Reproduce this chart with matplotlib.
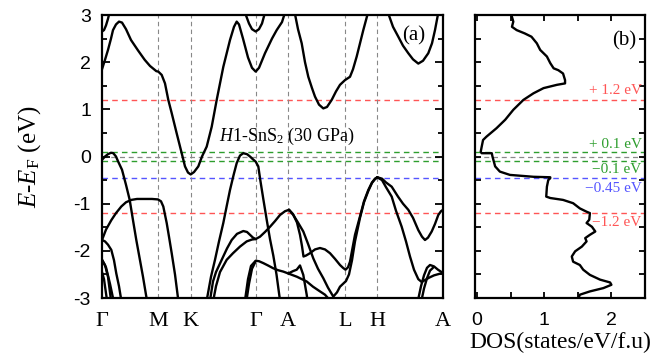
import matplotlib
matplotlib.use("Agg")
import matplotlib.pyplot as plt
from matplotlib.ticker import MultipleLocator
import numpy as np

plt.rcParams['font.family'] = 'Liberation Sans'
plt.rcParams['axes.unicode_minus'] = False
plt.rcParams['mathtext.fontset'] = 'custom'
plt.rcParams['mathtext.rm'] = 'Liberation Serif'
plt.rcParams['mathtext.it'] = 'Liberation Serif:italic'

SERIF = 'Liberation Serif'

# high-symmetry points along the k-path (path length, arb. units)
kpt_pos = [0.0, 56.3, 88.7, 153.7, 186.3, 243.0, 275.3, 341.0]
kpt_labels = ['Γ', 'M', 'K', 'Γ', 'A', 'L', 'H', 'A']

# band lines, (k, E - E_F) in eV
band_c1 = [(0, 2.65), (2, 2.68), (4, 2.78), (6, 2.92), (7.5, 3.05)]
band_c2 = [(0, 1.85), (3, 2.05), (6, 2.26), (9, 2.5), (11, 2.68), (14, 2.8), (17, 2.86), (20, 2.84),
           (24, 2.7), (29, 2.47), (36, 2.25), (42.7, 2.05), (48, 1.92), (54.3, 1.81), (56.3, 1.80),
           (59.7, 1.73), (63, 1.55), (66.3, 1.2), (69.7, 0.92), (74.7, 0.49), (79.7, 0.07),
           (83, -0.21), (86, -0.34), (88.7, -0.38), (92, -0.33), (96.3, -0.21), (100, 0.0),
           (104.7, 0.21), (109.7, 0.63), (114.7, 1.2), (121.3, 1.9), (128, 2.47), (132, 2.75),
           (134.7, 2.86), (137, 2.8), (141, 2.5), (146, 2.1), (150, 1.88), (153.7, 1.80),
           (157, 1.88), (163, 2.19), (170, 2.5), (174.7, 2.68), (180, 2.85), (183, 3.05)]
band_c3 = [(143, 3.05), (147, 2.82), (150, 2.7), (153.7, 2.65), (157, 2.7), (160, 2.82), (163, 3.05)]
band_c4 = [(192.7, 3.05), (196, 2.7), (199.7, 2.40), (203, 2.0), (206.3, 1.69), (210, 1.45),
           (213, 1.27), (217, 1.1), (221.3, 1.02), (225, 1.05), (229.7, 1.20), (234, 1.38),
           (238, 1.52), (243, 1.62), (248, 1.69), (251, 1.85), (254.7, 2.12), (258, 2.4),
           (261.3, 2.68), (266, 3.05)]
band_c5 = [(286, 3.05), (291, 2.75), (296.3, 2.54), (301, 2.35), (306.3, 2.19), (311, 2.06),
           (316.3, 1.97), (321, 2.03), (326.3, 2.19), (330, 2.4), (333, 2.68), (336.3, 3.05)]

band_v1 = [(0, -0.07), (3, 0.0), (6, 0.05), (9, 0.08), (11.3, 0.07), (14, 0.0), (16, -0.1),
           (20, -0.28), (24, -0.6), (27.7, -0.92), (31, -1.35), (34.3, -1.77), (38, -2.2),
           (41, -2.55), (44.3, -2.97), (45.3, -3.05)]
band_v2 = [(0, -1.77), (4, -1.55), (9.3, -1.35), (14, -1.2), (19.3, -1.06), (24, -0.97),
           (29.3, -0.92), (35, -0.90), (42.7, -0.90), (50, -0.90), (56, -0.91), (59, -0.95),
           (61.3, -1.06), (64.7, -1.41), (67, -1.7), (69.7, -2.05), (73, -2.5), (76.3, -3.05)]
band_v3 = [(0, -1.77), (3, -1.8), (6, -1.87), (9.3, -1.98), (12, -2.2), (14.3, -2.48),
           (17, -2.75), (19.3, -3.05)]
band_v4 = [(0, -2.19), (3, -2.3), (6, -2.55), (9, -3.05)]
band_v5 = [(0, -2.19), (4, -2.35), (8, -2.7), (11.5, -3.05)]
band_v6 = [(0, -2.45), (2, -2.6), (5, -3.05)]
band_v7 = [(104.7, -3.05), (109, -2.55), (113, -2.19), (117, -1.8), (121.3, -1.41), (125, -1.02),
           (128, -0.71), (131.5, -0.4), (134.7, -0.14), (138, 0.02), (141.3, 0.07), (145, 0.05),
           (148, 0.0), (151, -0.06), (153.7, -0.11), (156.3, -0.21), (158.3, -0.5), (161.3, -0.9),
           (164.7, -1.34), (168, -1.75), (171.3, -2.1), (174.5, -2.5), (178, -3.05)]
band_v8 = [(108, -3.05), (111, -2.65), (114, -2.45), (119.7, -2.19), (125, -1.95), (129.7, -1.77),
           (135, -1.64), (141.3, -1.58), (145, -1.6), (148, -1.66), (151, -1.72), (153.7, -1.75),
           (158, -1.7), (163, -1.6), (168, -1.49), (173, -1.37), (178, -1.24), (183, -1.16),
           (187, -1.13)]
band_v9 = [(111.3, -3.05), (114, -2.75), (118, -2.45), (124.7, -2.19), (131, -2.05), (138, -1.91),
           (144.7, -1.8), (150, -1.76), (153.7, -1.75)]
band_v10 = [(187, -1.13), (191, -1.22), (195, -1.4), (198, -1.66), (200, -1.9), (201.5, -2.12),
            (204, -2.1), (208, -2.05), (213, -1.97), (218, -1.94), (223, -1.97), (228, -2.05),
            (233, -2.17), (238, -2.3), (241, -2.36), (243.5, -2.40), (246, -2.35), (248, -2.23),
            (250, -2.0), (253, -1.66), (258, -1.27), (262, -0.95), (266.3, -0.71), (270, -0.55),
            (273, -0.47), (275.3, -0.44)]
band_v11 = [(187, -1.13), (191.3, -1.24), (196, -1.4), (201.3, -1.59), (206, -1.85), (211.3, -2.16),
            (216, -2.38), (221.3, -2.58), (226, -2.78), (231.3, -2.97), (235, -2.88), (238, -2.76),
            (241, -2.7), (244, -2.64), (247, -2.5), (250, -2.2), (253, -1.8), (258, -1.3),
            (262, -0.97), (266.3, -0.73), (270, -0.56), (273, -0.48), (275.3, -0.44)]
band_v12 = [(275.3, -0.44), (280, -0.47), (284, -0.55), (289.7, -0.64), (296, -0.85), (301, -1.0),
            (306.3, -1.13), (311, -1.3), (316.3, -1.56), (320, -1.7), (323, -1.77), (326, -1.72),
            (329.7, -1.59), (333, -1.43), (336.3, -1.24), (339, -1.16), (341, -1.13)]
band_v13 = [(275.3, -0.44), (280, -0.5), (284, -0.65), (289.7, -0.85), (294, -1.15), (299.7, -1.49),
            (304, -1.8), (308, -2.12), (312, -2.4), (316.3, -2.6), (319.7, -2.66), (323, -2.62),
            (327, -2.57), (332, -2.52), (337, -2.49), (341, -2.47)]
band_v14 = [(316, -3.05), (319, -2.75), (322, -2.52), (325, -2.36), (328, -2.3), (332, -2.33),
            (336, -2.4), (341, -2.47)]
band_v15 = [(319.5, -3.05), (322, -2.8), (325, -2.58), (328, -2.42), (331, -2.36)]
band_v16 = [(143, -3.05), (146, -2.6), (149, -2.32), (153.7, -2.21), (157, -2.22), (161.3, -2.26),
            (166, -2.31), (171.3, -2.37), (176, -2.41), (181.3, -2.44), (186.3, -2.48), (191, -2.43),
            (194.7, -2.40), (198, -2.31), (201.3, -2.51), (204.7, -2.93), (205.5, -3.05)]
band_v17 = [(144.5, -3.05), (147, -2.7), (150, -2.38), (153.7, -2.22)]
band_v18 = [(186.3, -2.48), (195, -2.55), (204.7, -2.65), (211, -2.76), (218, -2.86), (223, -2.93),
            (228, -3.05)]

bands = [band_c1, band_c2, band_c3, band_c4, band_c5,
         band_v1, band_v2, band_v3, band_v4, band_v5, band_v6, band_v7, band_v8, band_v9,
         band_v10, band_v11, band_v12, band_v13, band_v14, band_v15, band_v16, band_v17, band_v18]

# density of states, (E - E_F, DOS)
dos_E = [2.96, 2.86, 2.75, 2.68, 2.61, 2.54, 2.40, 2.26, 2.12, 1.98, 1.87, 1.83, 1.76, 1.62, 1.55,
         1.52, 1.45, 1.34, 1.20, 0.99, 0.78, 0.60, 0.42, 0.35, 0.21, 0.10, 0.07, 0.07, 0.0, -0.21,
         -0.32, -0.39, -0.43, -0.44, -0.46, -0.50, -0.64, -0.85, -0.88, -0.92, -0.99, -1.10, -1.17,
         -1.20, -1.34, -1.41, -1.49, -1.59, -1.66, -1.73, -1.80, -1.91, -2.01, -2.12, -2.23, -2.30,
         -2.40, -2.51, -2.61, -2.67, -2.72, -2.79, -2.86, -2.93, -3.0]
dos_val = [0.52, 0.54, 0.52, 0.59, 0.71, 0.81, 0.89, 0.94, 1.04, 1.09, 1.14, 1.21, 1.28, 1.31, 1.31,
           1.19, 0.99, 0.84, 0.69, 0.54, 0.42, 0.29, 0.14, 0.09, 0.07, 0.055, 0.07, 0.22, 0.23, 0.27,
           0.34, 0.49, 0.84, 1.09, 1.09, 1.06, 1.04, 1.03, 1.09, 1.28, 1.43, 1.53, 1.63,
           1.68, 1.67, 1.63, 1.71, 1.76, 1.68, 1.61, 1.63, 1.56, 1.46, 1.41, 1.43, 1.53,
           1.58, 1.68, 1.83, 1.98, 2.00, 1.88, 1.68, 1.53, 1.51]

# reference energy levels
level_E = [1.2, 0.1, -0.1, -0.45, -1.2]
level_colors = ['#ff5555', '#2e9e2e', '#2e9e2e', '#5555ff', '#ff5555']
level_labels = ['+ 1.2 eV', '+ 0.1 eV', '\u22120.1 eV', '\u22120.45 eV', '\u22121.2 eV']
level_label_y = [1.41, 0.25, -0.28, -0.67, -1.39]

fig = plt.figure(figsize=(6.53, 3.6), dpi=100)
ax1 = fig.add_axes([0.1562, 0.1722, 0.5222, 0.7861])
ax2 = fig.add_axes([0.7274, 0.1722, 0.2604, 0.7861])


def draw_levels(ax):
    ax.axhline(0, color='#888888', lw=0.9, ls=(0, (4, 3)), zorder=1)
    for e, c in zip(level_E, level_colors):
        ax.axhline(e, color=c, lw=1.0, ls=(0, (4, 3)), zorder=1)


# (a) band structure
draw_levels(ax1)
for k in kpt_pos[1:-1]:
    ax1.axvline(k, color='#888888', lw=0.8, ls=(0, (4, 3)), zorder=1)
for b in bands:
    b = np.array(b)
    ax1.plot(b[:, 0], b[:, 1], color='black', lw=1.7, zorder=3, solid_capstyle='round')

ax1.set_xlim(kpt_pos[0], kpt_pos[-1])
ax1.set_ylim(-3, 3)
ax1.set_xticks(kpt_pos)
ax1.set_xticklabels(kpt_labels, fontfamily=SERIF, fontsize=16)
ax1.tick_params(axis='x', length=0, pad=10)
ax1.yaxis.set_major_locator(MultipleLocator(1))
ax1.yaxis.set_minor_locator(MultipleLocator(0.5))
ax1.tick_params(axis='y', which='both', direction='in', left=True, right=True, width=1.3)
ax1.tick_params(axis='y', which='major', length=6, labelsize=14, pad=8)
ax1.tick_params(axis='y', which='minor', length=3.5)
ax1.set_ylabel(r'$E$-$E_{\rm F}$ (eV)', fontfamily=SERIF, fontsize=18, labelpad=22)
ax1.text(185, 0.42, r'$H$1-SnS$_2$ (30 GPa)', fontfamily=SERIF, fontsize=13,
         ha='center', va='center', zorder=2)
ax1.text(0.915, 0.925, '(a)', transform=ax1.transAxes, fontfamily=SERIF, fontsize=15,
         ha='center', va='center')

# (b) density of states
draw_levels(ax2)
ax2.plot(dos_val, dos_E, color='black', lw=1.7, zorder=3)
for txt, y, c in zip(level_labels, level_label_y, level_colors):
    ax2.text(2.45, y, txt, color=c, fontfamily=SERIF, fontsize=11, ha='right', va='center')
ax2.set_xlim(-0.03, 2.5)
ax2.set_ylim(-3, 3)
ax2.xaxis.set_major_locator(MultipleLocator(1))
ax2.xaxis.set_minor_locator(MultipleLocator(0.5))
ax2.yaxis.set_major_locator(MultipleLocator(0.5))
ax2.tick_params(axis='both', which='both', direction='in', top=True, bottom=True,
                left=True, right=True, width=1.3)
ax2.tick_params(axis='both', which='major', length=4)
ax2.tick_params(axis='both', which='minor', length=4)
ax2.tick_params(axis='x', labelsize=14, pad=10)
ax2.set_yticklabels([])
ax2.set_xlabel('DOS(states/eV/f.u)', fontfamily=SERIF, fontsize=17, labelpad=2)
ax2.text(0.88, 0.91, '(b)', transform=ax2.transAxes, fontfamily=SERIF, fontsize=15,
         ha='center', va='center')

for ax in (ax1, ax2):
    for s in ax.spines.values():
        s.set_linewidth(1.6)

fig.savefig('out.png', dpi=100)
